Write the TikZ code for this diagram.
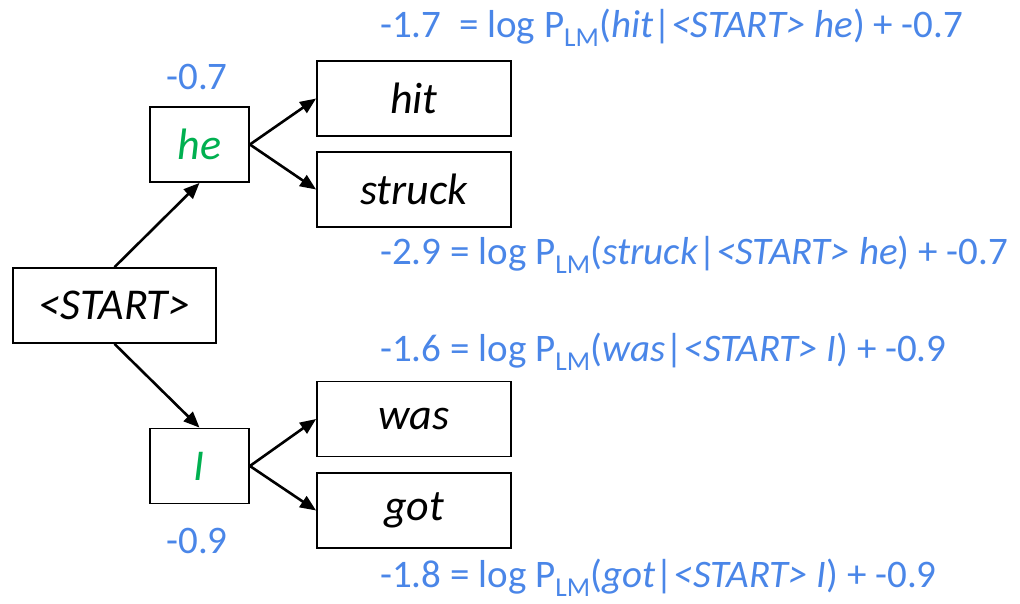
\documentclass[tikz,border=0pt]{standalone}
\usepackage{fontspec}
\setmainfont{Carlito}
\usetikzlibrary{arrows.meta,positioning}
\definecolor{beamBlue}{HTML}{4A86E8}
\definecolor{beamGreen}{HTML}{00B050}

\begin{document}
\begin{tikzpicture}[x=1pt,y=-1pt,
    word/.style={draw=black,line width=1.8pt,minimum width=194pt,
                 minimum height=75pt,inner sep=0pt,
                 font=\fontsize{44}{48}\selectfont\itshape},
    hyp/.style={word,minimum width=99pt,text=beamGreen},
    score/.style={text=beamBlue,font=\fontsize{39}{42}\selectfont,inner sep=0pt},
    link/.style={-{Triangle[length=16pt,width=13pt]},line width=2.6pt}]
  \useasboundingbox (0,0) rectangle (1020,603);
  % beam nodes
  \node[word,minimum width=203pt] (start) at (114.5,305.5) {<START>};
  \node[hyp] (he) at (199.5,144.5) {he};
  \node[hyp] (i) at (199.5,466) {I};
  \node[word] (hit) at (414,98.5) {hit};
  \node[word] (struck) at (414,189.5) {struck};
  \node[word] (was) at (414,419) {was};
  \node[word] (got) at (414,510.5) {got};
  % scores
  \node[score] (she) at (197,77) {-0.7};
  \node[score] (si) at (197,541) {-0.9};
  \node[score,anchor=west] (shit) at (380,28)
    {-1.7\ \ = log P\textsubscript{LM}(\textit{hit}|\textit{<START> he}) + -0.7};
  \node[score,anchor=west] (sstruck) at (380,255)
    {-2.9 = log P\textsubscript{LM}(\textit{struck}|\textit{<START> he}) + -0.7};
  \node[score,anchor=west] (swas) at (380,352)
    {-1.6 = log P\textsubscript{LM}(\textit{was}|\textit{<START> I}) + -0.9};
  \node[score,anchor=west] (sgot) at (380,578)
    {-1.8 = log P\textsubscript{LM}(\textit{got}|\textit{<START> I}) + -0.9};
  % arrows
  \draw[link] (start.north) -- (he.south);
  \draw[link] (start.south) -- (i.north);
  \draw[link] (he.east) -- (hit.west);
  \draw[link] (he.east) -- (struck.west);
  \draw[link] (i.east) -- (was.west);
  \draw[link] (i.east) -- (got.west);
\end{tikzpicture}
\end{document}
